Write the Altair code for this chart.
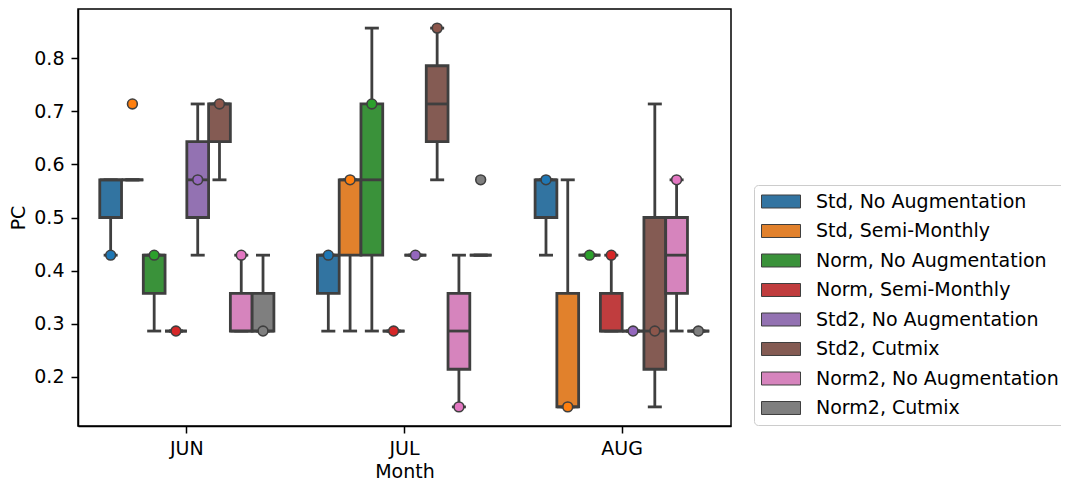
import altair as alt
import pandas as pd

months = ["JUN", "JUL", "AUG"]
groups = [
    "Std, No Augmentation", "Std, Semi-Monthly", "Norm, No Augmentation",
    "Norm, Semi-Monthly", "Std2, No Augmentation", "Std2, Cutmix",
    "Norm2, No Augmentation", "Norm2, Cutmix",
]

# box statistics, 8 groups per month (JUN, JUL, AUG)
whisker_low = [0.429, 0.571, 0.286, 0.286, 0.429, 0.571, 0.286, 0.286,
               0.286, 0.286, 0.286, 0.286, 0.429, 0.571, 0.143, 0.429,
               0.429, 0.143, 0.429, 0.286, 0.286, 0.143, 0.286, 0.286]
q1 = [0.500, 0.571, 0.357, 0.286, 0.500, 0.643, 0.286, 0.286,
      0.357, 0.429, 0.429, 0.286, 0.429, 0.643, 0.214, 0.429,
      0.500, 0.143, 0.429, 0.286, 0.286, 0.214, 0.357, 0.286]
median = [0.571, 0.571, 0.429, 0.286, 0.571, 0.714, 0.286, 0.286,
          0.429, 0.571, 0.571, 0.286, 0.429, 0.714, 0.286, 0.429,
          0.571, 0.143, 0.429, 0.286, 0.286, 0.286, 0.429, 0.286]
q3 = [0.571, 0.571, 0.429, 0.286, 0.643, 0.714, 0.357, 0.357,
      0.429, 0.571, 0.714, 0.286, 0.429, 0.786, 0.357, 0.429,
      0.571, 0.357, 0.429, 0.357, 0.286, 0.500, 0.500, 0.286]
whisker_high = [0.571, 0.571, 0.429, 0.286, 0.714, 0.714, 0.429, 0.429,
                0.429, 0.571, 0.857, 0.286, 0.429, 0.857, 0.429, 0.429,
                0.571, 0.571, 0.429, 0.429, 0.286, 0.714, 0.571, 0.286]
marker = [0.429, 0.714, 0.429, 0.286, 0.571, 0.714, 0.429, 0.286,
          0.429, 0.571, 0.714, 0.286, 0.429, 0.857, 0.143, 0.571,
          0.571, 0.143, 0.429, 0.429, 0.286, 0.286, 0.571, 0.286]

box_colors = ["#3274a1", "#e1812c", "#3a923a", "#c03d3e",
              "#9372b2", "#845b53", "#d684bd", "#7f7f7f"]
dot_colors = ["#1f77b4", "#ff7f0e", "#2ca02c", "#d62728",
              "#9467bd", "#8c564b", "#e377c2", "#7f7f7f"]

rows = []
for mi, m in enumerate(months):
    for gi, g in enumerate(groups):
        i = mi * len(groups) + gi
        rows.append(dict(Month=m, group=g, lo=whisker_low[i], q1=q1[i],
                         med=median[i], q3=q3[i], hi=whisker_high[i],
                         dot=marker[i]))
df = pd.DataFrame(rows)

LINE = "#3f3f3f"
FONT = "DejaVu Sans"

x = alt.X("Month:N", sort=months,
          scale=alt.Scale(paddingInner=0, paddingOuter=0),
          axis=alt.Axis(title="Month", labelAngle=0, tickSize=7,
                        labelPadding=6, titlePadding=4))
xo = alt.XOffset("group:N", sort=groups,
                 scale=alt.Scale(domain=groups, paddingInner=0, paddingOuter=1))
yscale = alt.Scale(domain=[0.107, 0.893], nice=False, zero=False)
yaxis = alt.Axis(title="PC", values=[0.2, 0.3, 0.4, 0.5, 0.6, 0.7, 0.8],
                 format=".1f", tickSize=7, labelPadding=7, titlePadding=5,
                 grid=False)

base = alt.Chart(df)

whisk = base.mark_rule(color=LINE, strokeWidth=2.8).encode(
    x=x, xOffset=xo, y=alt.Y("lo:Q", scale=yscale, axis=yaxis), y2="hi:Q")

cap_lo = base.mark_tick(color=LINE, size=14, thickness=2.8,
                        orient="horizontal", opacity=1).encode(
    x=x, xOffset=xo, y=alt.Y("lo:Q", scale=yscale))
cap_hi = base.mark_tick(color=LINE, size=14, thickness=2.8,
                        orient="horizontal", opacity=1).encode(
    x=x, xOffset=xo, y=alt.Y("hi:Q", scale=yscale))

boxes = base.mark_bar(stroke=LINE, strokeWidth=2.8, opacity=1).encode(
    x=x, xOffset=xo,
    y=alt.Y("q1:Q", scale=yscale), y2="q3:Q",
    color=alt.Color("group:N", sort=groups,
                    scale=alt.Scale(domain=groups, range=box_colors),
                    legend=alt.Legend(
                        title=None, orient="none", legendX=676, legendY=176,
                        symbolType="M-1,-0.333H1V0.333H-1Z", symbolSize=1521,
                        symbolStrokeColor=LINE, symbolStrokeWidth=1,
                        symbolOpacity=1, clipHeight=19, rowPadding=9.5,
                        labelFontSize=19, labelFont=FONT, labelColor="black",
                        labelOffset=15, labelLimit=400, padding=7,
                        strokeColor="#cccccc", cornerRadius=4,
                        fillColor="white")))

meds = base.mark_tick(color=LINE, size=21.8, thickness=2.8,
                      orient="horizontal", opacity=1).encode(
    x=x, xOffset=xo, y=alt.Y("med:Q", scale=yscale))

dots = base.mark_point(filled=True, size=96, stroke=LINE, strokeWidth=1.6,
                       opacity=1).encode(
    x=x, xOffset=xo, y=alt.Y("dot:Q", scale=yscale),
    fill=alt.Fill("group:N", sort=groups,
                  scale=alt.Scale(domain=groups, range=dot_colors),
                  legend=None))

chart = alt.layer(whisk, cap_lo, cap_hi, boxes, meds, dots).resolve_scale(
    fill="independent", color="independent"
).properties(
    width=653, height=417,
    padding={"left": 70, "top": 1, "right": 330, "bottom": 55},
    autosize=alt.AutoSizeParams(type="none"),
).configure_axis(
    labelFont=FONT, titleFont=FONT, labelFontSize=19, titleFontSize=19,
    labelColor="black", titleColor="black", domainColor="black",
    tickColor="black", domainWidth=1.5, tickWidth=1.5,
    titleFontWeight="normal",
).configure_view(stroke="black", strokeWidth=1.5)

chart.save("out.html", embed_options={"renderer": "svg", "actions": False})
